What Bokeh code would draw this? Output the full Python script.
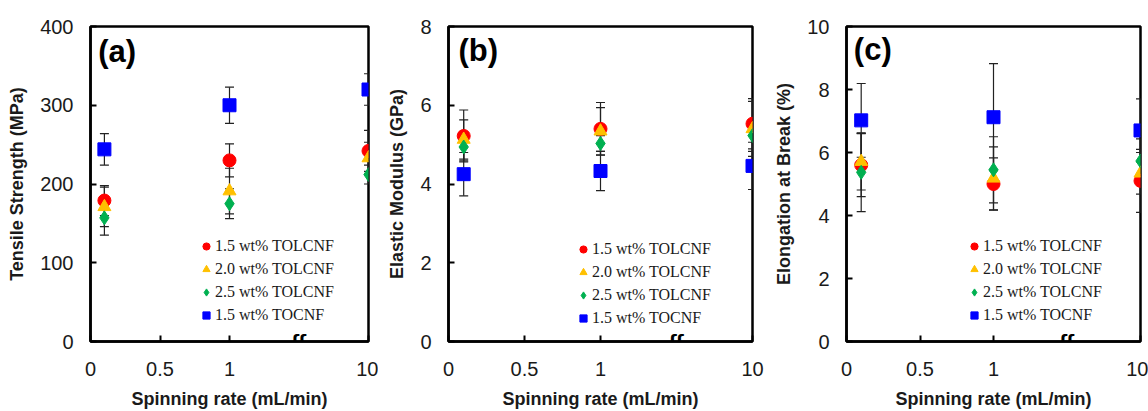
import numpy as np
from bokeh.plotting import figure
from bokeh.models import (ColumnDataSource, Whisker, TeeHead, Range1d, FixedTicker,
                          Legend, LegendItem, Label)
from bokeh.layouts import row
from bokeh.embed import file_html
from bokeh.resources import INLINE

# ---------------- data ----------------
rates = [0.1, 1, 10]                     # spinning rate (mL/min)
x_ticks = [0, 0.5, 1, 10]                # tick labels on the broken axis
series_names = ["1.5 wt% TOLCNF", "2.0 wt% TOLCNF", "2.5 wt% TOLCNF", "1.5 wt% TOCNF"]

# Tensile strength (MPa)
ts_15 = [179, 230, 242]; ts_15_err = [19, 21, 26]
ts_20 = [171, 191, 233]; ts_20_err = [25, 29, 20]
ts_25 = [157, 175, 212]; ts_25_err = [22, 19, 12]
ts_oc = [244, 300, 320]; ts_oc_err = [20, 23, 20]

# Elastic modulus (GPa)
em_15 = [5.22, 5.40, 5.53]; em_15_err = [0.66, 0.67, 0.64]
em_20 = [5.13, 5.34, 5.40]; em_20_err = [0.50, 0.60, 0.70]
em_25 = [4.94, 5.03, 5.23]; em_25_err = [0.35, 0.20, 0.40]
em_oc = [4.25, 4.33, 4.46]; em_oc_err = [0.55, 0.50, 0.60]

# Elongation at break (%)
eb_15 = [5.60, 5.00, 5.10]; eb_15_err = [1.00, 0.83, 1.00]
eb_20 = [5.71, 5.18, 5.34]; eb_20_err = [0.90, 1.00, 0.66]
eb_25 = [5.37, 5.45, 5.73]; eb_25_err = [1.25, 1.05, 0.70]
eb_oc = [7.02, 7.12, 6.70]; eb_oc_err = [1.17, 1.70, 1.00]

colors = ["#FF0000", "#FFC000", "#00B050", "#0000FF"]
markers = ["circle", "triangle", "diamond", "square"]
sizes = [13, 13, 14, 13]


def axis_pos(r):
    # broken axis: linear up to 1, then one decade per unit
    return r if r <= 1 else 1 + np.log10(r)


xp = [axis_pos(r) for r in rates]
tick_pos = [axis_pos(t) for t in x_ticks]

FRAME_H = 319
H = 411

panels = [
    dict(tag="(a)", title="Tensile Strength (MPa)", ymax=400, step=100,
         data=[(ts_15, ts_15_err), (ts_20, ts_20_err), (ts_25, ts_25_err), (ts_oc, ts_oc_err)],
         w=378, bl=90, br=10, bt=26, leg=(107, 17), tagx=0.055, tagpx=8),
    dict(tag="(b)", title="Elastic Modulus (GPa)", ymax=8, step=2,
         data=[(em_15, em_15_err), (em_20, em_20_err), (em_25, em_25_err), (em_oc, em_oc_err)],
         w=392, bl=70, br=18, bt=23, leg=(126, 14), tagx=0.065, tagpx=7),
    dict(tag="(c)", title="Elongation at Break (%)", ymax=10, step=2,
         data=[(eb_15, eb_15_err), (eb_20, eb_20_err), (eb_25, eb_25_err), (eb_oc, eb_oc_err)],
         w=378, bl=76, br=8, bt=23, leg=(119, 17), tagx=0.05, tagpx=6),
]

SANS = "Liberation Sans"
SERIF = "Liberation Serif"


def make_panel(cfg):
    p = figure(width=cfg["w"], height=H, x_range=Range1d(0, 2), y_range=Range1d(0, cfg["ymax"]),
               output_backend="svg", toolbar_location=None,
               min_border_left=cfg["bl"], min_border_right=cfg["br"],
               min_border_top=cfg["bt"], min_border_bottom=H - cfg["bt"] - FRAME_H)
    p.xgrid.visible = False
    p.ygrid.visible = False
    p.background_fill_color = "white"
    p.border_fill_color = "white"
    p.outline_line_color = "black"
    p.outline_line_width = 2.5
    p.outline_line_alpha = 1

    # x axis
    xa = p.xaxis[0]
    xa.ticker = FixedTicker(ticks=tick_pos)
    xa.major_label_overrides = {tp: str(t) for tp, t in zip(tick_pos, x_ticks)}
    xa.axis_label = "Spinning rate (mL/min)"
    # y axis
    ya = p.yaxis[0]
    ya.ticker = FixedTicker(ticks=list(np.arange(0, cfg["ymax"] + 1e-9, cfg["step"])))
    ya.axis_label = cfg["title"]
    for ax in (xa, ya):
        ax.axis_line_width = 2.5
        ax.axis_line_color = "black"
        ax.major_tick_in = 6
        ax.major_tick_out = 0
        ax.major_tick_line_width = 2
        ax.major_tick_line_color = "black"
        ax.minor_tick_line_color = None
        ax.major_label_text_font = SANS
        ax.major_label_text_font_size = "20px"
        ax.major_label_text_color = "#1a1a1a"
        ax.axis_label_text_font = SANS
        ax.axis_label_text_font_style = "bold"
        ax.axis_label_text_font_size = "18px"
        ax.axis_label_text_color = "#1a1a1a"
    xa.major_label_standoff = 20
    xa.axis_label_standoff = 10
    ya.major_label_standoff = 17
    ya.axis_label_standoff = 10

    items = []
    for i, (vals, errs) in enumerate(cfg["data"]):
        v = np.array(vals, float)
        e = np.array(errs, float)
        src = ColumnDataSource(dict(x=xp, y=v, upper=v + e, lower=v - e))
        wh = Whisker(base="x", upper="upper", lower="lower", source=src,
                     line_color="#222222", line_width=1.2,
                     upper_head=TeeHead(size=9, line_color="#222222", line_width=1.2),
                     lower_head=TeeHead(size=9, line_color="#222222", line_width=1.2))
        p.add_layout(wh)
    for i, (vals, errs) in enumerate(cfg["data"]):
        src = ColumnDataSource(dict(x=xp, y=list(vals)))
        r = p.scatter("x", "y", source=src, marker=markers[i], size=sizes[i],
                      fill_color=colors[i], line_color=colors[i])
        items.append(LegendItem(label=series_names[i], renderers=[r]))

    leg = Legend(items=items, location=cfg["leg"], border_line_color=None,
                 background_fill_alpha=0, padding=0, margin=0, spacing=5,
                 glyph_width=18, glyph_height=18, label_height=18, label_standoff=0,
                 label_text_font=SERIF, label_text_font_size="16px",
                 label_text_color="#1a1a1a")
    p.add_layout(leg)

    ytop = cfg["ymax"] - cfg["tagpx"] * cfg["ymax"] / float(FRAME_H)
    p.add_layout(Label(x=cfg["tagx"], y=ytop, text=cfg["tag"], text_font=SANS,
                       text_font_style="bold", text_font_size="31px",
                       text_baseline="top", text_align="left", text_color="black"))
    # axis break mark
    p.add_layout(Label(x=1.5, y=0, text="ʃʃ", text_font="DejaVu Sans", text_font_size="17px",
                       text_font_style="bold", text_baseline="middle", text_align="center",
                       text_color="black"))
    return p


figs = [make_panel(c) for c in panels]
layout = row(*figs)

open("out.html", "w").write(file_html(layout, INLINE))
